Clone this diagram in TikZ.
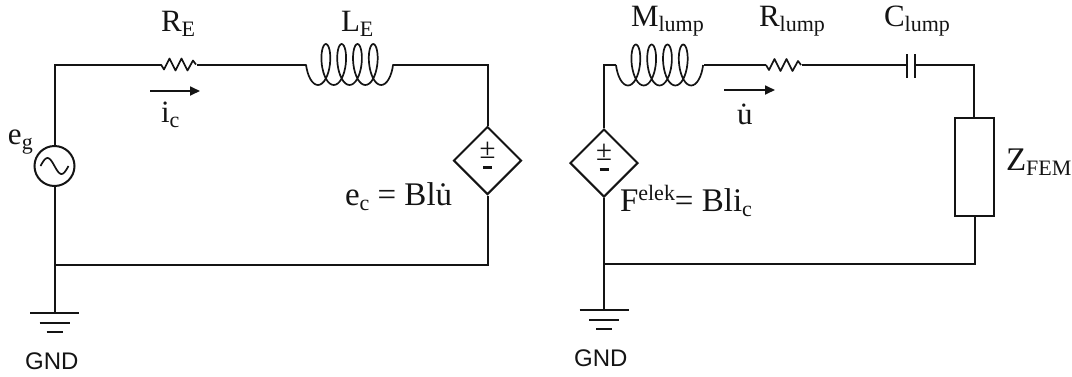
\documentclass[tikz,border=0pt]{standalone}
\usepackage{fontspec}
\setmainfont{Liberation Serif}
\newfontfamily\gndfont{Liberation Sans}
\newcommand{\bigtxt}{\fontsize{31}{31}\selectfont}
\newcommand{\subs}[1]{\raisebox{-5.5pt}{\fontsize{22}{22}\selectfont #1}}
\newcommand{\sups}[1]{\raisebox{11pt}{\fontsize{22}{22}\selectfont #1}}
\definecolor{ink}{gray}{0.08}
\tikzset{
  wire/.style={line width=2pt,draw=ink,line join=miter},
  thin part/.style={line width=1.7pt,draw=ink,line join=round},
  lab/.style={inner sep=0pt,outer sep=0pt,text=ink,font=\bigtxt,anchor=base west},
  gndlab/.style={inner sep=0pt,text=ink,font=\gndfont\fontsize{24}{24}\selectfont,anchor=base west},
  vsrc/.style={diamond,draw=ink,line width=2pt,minimum width=68pt,minimum height=68pt,inner sep=0pt,aspect=1},
  acsrc/.style={circle,draw=ink,line width=2pt,minimum size=40pt,inner sep=0pt},
  impbox/.style={rectangle,draw=ink,line width=2.2pt,minimum width=39pt,minimum height=98pt,inner sep=0pt},
  flow/.style={line width=1.7pt,draw=ink,-{Triangle[length=10pt,width=9pt]}},
  pm/.style={inner sep=0pt,text=ink,font=\fontsize{29}{29}\selectfont},
  dash sign/.style={line width=3pt,draw=ink},
}
\usetikzlibrary{shapes.geometric,arrows.meta}
\newcommand{\coil}[2]{%
  \draw[thin part,xshift=#1pt,yshift=-#2pt] plot[smooth,samples=145,domain=-90:1530,variable=\t]
    ({15.8*(\t/360)+8*sin(\t)+8+3.95},{20.5*cos(\t)});}
\newcommand{\zig}[2]{%
  \draw[thin part,xshift=#1pt,yshift=-#2pt] (0,0) -- (3,5) -- (8.5,-6) -- (14.5,6) -- (20.5,-6) -- (26.5,6) -- (32,-4) -- (35,0);}
\newcommand{\groundsym}[2]{%
  \draw[wire] (#1-24.5pt,-#2pt) -- (#1+24.5pt,-#2pt);
  \draw[wire] (#1-15pt,-#2pt-9.5pt) -- (#1+15pt,-#2pt-9.5pt);
  \draw[wire] (#1-8pt,-#2pt-18.5pt) -- (#1+8pt,-#2pt-18.5pt);}
\begin{document}
\begin{tikzpicture}[x=1pt,y=-1pt]
\useasboundingbox (0,0) rectangle (1072,376);
% --- left circuit ---
\node[acsrc] (eg) at (54.5,166) {};
\draw[thin part] plot[smooth,samples=30,domain=-180:180,variable=\t] ({54.5+\t/180*14},{166+8*sin(\t)});
\node[vsrc] (vl) at (487.5,160.5) {};
\coordinate (tl) at (54.5,64.5);
\coordinate (tr) at (487.5,64.5);
\coordinate (rea) at (161,64.5);
\coordinate (reb) at (197,64.5);
\coordinate (lea) at (306,64.5);
\coordinate (leb) at (393,64.5);
\coordinate (jl) at (54.5,265);
\coordinate (br) at (487.5,265);
\coordinate (gl) at (54.5,313);
\draw[wire] (eg.north) -- (tl) -- (rea);
\draw[wire] (reb) -- (lea);
\draw[wire] (leb) -- (tr) -- (vl.north);
\draw[wire] (vl.south) -- (br) -- (jl);
\draw[wire] (eg.south) -- (gl);
\zig{161}{64.5}
\coil{306}{64.5}
\groundsym{54.5}{313}
\coordinate (ia) at (150,91);
\coordinate (ib) at (200,91);
\draw[flow] (ia) -- (ib);
\node[lab] (RE) at (161,31) {R\subs{E}};
\node[lab] (LE) at (341,31) {L\subs{E}};
\node[lab] (ic) at (161,122) {i\subs{c}};
\node[lab] (egl) at (8,144) {e\subs{g}};
\node[lab] (ecl) at (345,205) {\fontsize{33}{33}\selectfont e\subs{c} = Blu̇};
\node[pm] (pml) at (487.5,150) {±};
\coordinate (mla0) at (483,167);
\coordinate (mlb0) at (492,167);
\draw[dash sign] (mla0) -- (mlb0);
\node[gndlab] (gndl) at (25,369) {GND};
% --- right circuit ---
\node[vsrc] (vr) at (604,163) {};
\node[impbox] (z) at (974.5,167) {};
\coordinate (tl2) at (604,65);
\coordinate (mla) at (616,65);
\coordinate (mlb) at (704,65);
\coordinate (rla) at (766,65);
\coordinate (rlb) at (802,65);
\coordinate (cla) at (907,65);
\coordinate (clb) at (915,65);
\coordinate (cat) at (907,54);
\coordinate (cab) at (907,78);
\coordinate (cbt) at (915,54);
\coordinate (cbb) at (915,78);
\coordinate (tr2) at (973.5,65);
\coordinate (trb) at (973.5,118);
\coordinate (zb) at (975,216);
\coordinate (jr) at (604,263.5);
\coordinate (br2) at (975,263.5);
\coordinate (gr) at (604,310);
\draw[wire] (vr.north) -- (tl2) -- (mla);
\draw[wire] (mlb) -- (rla);
\draw[wire] (rlb) -- (cla);
\draw[wire] (cat) -- (cab);
\draw[wire] (cbt) -- (cbb);
\draw[wire] (clb) -- (tr2) -- (trb);
\draw[wire] (zb) -- (br2) -- (jr);
\draw[wire] (vr.south) -- (gr);
\zig{766}{65}
\coil{616}{65}
\groundsym{604}{310}
\coordinate (ua) at (724,90);
\coordinate (ub) at (775,90);
\draw[flow] (ua) -- (ub);
\node[lab] (Ml) at (631,26) {M\subs{lump}};
\node[lab] (Rl) at (759,26) {R\subs{lump}};
\node[lab] (Cl) at (884,26) {C\subs{lump}};
\node[lab] (ul) at (737,124) {u̇};
\node[lab] (zl) at (1006,170) {\fontsize{33}{33}\selectfont Z\subs{FEM}};
\node[lab] (fl) at (620,211) {\fontsize{33}{33}\selectfont F\sups{elek}= Bli\subs{c}};
\node[pm] (pmr) at (604,152.5) {±};
\coordinate (mra0) at (599.5,169.5);
\coordinate (mrb0) at (608.5,169.5);
\draw[dash sign] (mra0) -- (mrb0);
\node[gndlab] (gndr) at (574,366) {GND};
\end{tikzpicture}
\end{document}
